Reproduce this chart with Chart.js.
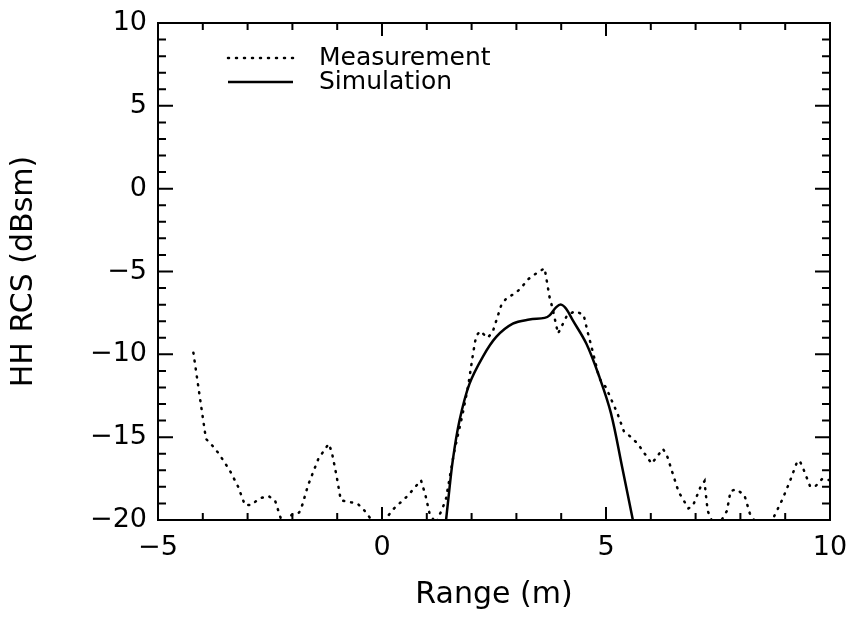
<!DOCTYPE html>
<html>
<head>
<meta charset="utf-8">
<script src="https://cdn.jsdelivr.net/npm/chart.js@4/dist/chart.umd.min.js"></script>
<style>
html, body { margin: 0; padding: 0; background: #fff; }
#wrap { width: 850px; height: 622px; }
</style>
</head>
<body>
<div id="wrap"><canvas id="rcs"></canvas></div>
<script>
// measured RCS (dotted)
var meas_x = [-4.21, -4.06, -3.93, -3.79, -3.64, -3.40, -3.21, -3.06, -2.92, -2.74, -2.54, -2.39, -2.26, -2.14, -2.02,
    -1.85, -1.78, -1.65, -1.42, -1.19, -1.12, -1.01, -0.92, -0.77, -0.55, -0.40, -0.26, -0.08, 0.12, 0.27,
    0.57, 0.87, 0.97, 1.06, 1.20, 1.35, 1.43, 1.61, 1.80, 1.93, 2.03, 2.10, 2.19, 2.36, 2.47,
    2.66, 2.78, 2.99, 3.13, 3.27, 3.45, 3.63, 3.74, 3.80, 3.93, 4.04, 4.13, 4.30, 4.50, 4.59,
    4.71, 4.85, 5.00, 5.26, 5.40, 5.56, 5.71, 6.02, 6.27, 6.36, 6.62, 6.84, 6.94, 7.11, 7.20,
    7.22, 7.27, 7.45, 7.70, 7.78, 7.91, 8.09, 8.21, 8.45, 8.74, 8.93, 9.10, 9.25, 9.32, 9.41,
    9.56, 9.68, 9.83, 10.0];
var meas_y = [-9.9, -12.7, -15.1, -15.5, -16.0, -17.0, -18.0, -19.1, -19.1, -18.7, -18.55, -18.8, -19.9, -20.4, -19.7,
    -19.55, -19.1, -17.9, -16.3, -15.4, -15.9, -17.4, -18.8, -18.9, -19.0, -19.4, -19.9, -20.5, -19.8, -19.3,
    -18.55, -17.6, -18.5, -19.6, -20.2, -19.3, -18.7, -15.9, -13.6, -11.8, -10.0, -8.9, -8.6, -9.0, -8.65,
    -7.05, -6.6, -6.3, -5.9, -5.45, -5.1, -4.8, -6.55, -7.15, -8.75, -8.15, -7.65, -7.4, -7.6, -8.65,
    -9.9, -11.45, -12.0, -13.6, -14.65, -15.0, -15.4, -16.6, -15.7, -16.1, -18.3, -19.3, -19.15, -18.0, -17.65,
    -18.25, -19.45, -20.6, -19.45, -18.25, -18.15, -18.5, -19.6, -20.6, -19.85, -18.8, -17.7, -16.6, -16.4, -16.95,
    -18.0, -17.95, -17.5, -17.6];

// simulated RCS (solid)
var sim_x = [1.43, 1.47, 1.58, 1.73, 1.95, 2.25, 2.55, 2.92, 3.29, 3.63, 3.74, 3.89, 4.00, 4.11, 4.26, 4.56, 4.85, 5.11, 5.36, 5.60];
var sim_y = [-20.0, -19.0, -16.4, -14.0, -11.8, -10.15, -8.95, -8.15, -7.9, -7.8, -7.65, -7.15, -7.0, -7.25, -7.95, -9.35, -11.35, -13.55, -16.8, -20.0];

var x_min = -5, x_max = 10, x_step = 5;
var y_min = -20, y_max = 10, y_step = 5;

var FONT = "'DejaVu Sans', sans-serif";

function toPoints(xs, ys) {
    var pts = [];
    for (var i = 0; i < xs.length; i++) {
        pts.push({ x: xs[i], y: ys[i] });
    }
    return pts;
}

function fmt(v) {
    return v < 0 ? '\u2212' + Math.abs(v) : String(v);
}

// box round the plot with inward ticks on all four sides
var frameTicks = {
    id: 'frameTicks',
    afterDatasetsDraw: function (chart) {
        var c = chart.ctx, a = chart.chartArea;
        var sx = chart.scales.x, sy = chart.scales.y;
        c.save();
        c.strokeStyle = '#000';
        c.lineWidth = 2;
        c.strokeRect(a.left, a.top, a.right - a.left, a.bottom - a.top);
        c.beginPath();
        for (var v = x_min; v <= x_max; v++) {
            var px = sx.getPixelForValue(v);
            var len = (v % x_step === 0) ? 13 : 7;
            c.moveTo(px, a.bottom); c.lineTo(px, a.bottom - len);
            c.moveTo(px, a.top); c.lineTo(px, a.top + len);
        }
        for (var w = y_min; w <= y_max; w++) {
            var py = sy.getPixelForValue(w);
            var l2 = (w % y_step === 0) ? 15 : 8;
            c.moveTo(a.left, py); c.lineTo(a.left + l2, py);
            c.moveTo(a.right, py); c.lineTo(a.right - l2, py);
        }
        c.stroke();

        // legend inside the plot
        var items = chart.data.datasets;
        var rows = [58, 82];
        c.font = '25px ' + FONT;
        c.textBaseline = 'middle';
        c.fillStyle = '#000';
        for (var i = 0; i < items.length; i++) {
            var ds = items[i];
            c.beginPath();
            c.lineWidth = ds.borderWidth;
            c.lineCap = ds.borderCapStyle || 'butt';
            c.setLineDash(ds.borderDash || []);
            c.moveTo(228, rows[i]); c.lineTo(293, rows[i]);
            c.stroke();
            c.setLineDash([]);
            c.fillText(ds.label, 319, rows[i]);
        }
        c.restore();
    }
};

var chart_rcs = new Chart(document.getElementById('rcs').getContext('2d'), {
    type: 'scatter',
    data: {
        datasets: [{
            label: 'Measurement',
            data: toPoints(meas_x, meas_y),
            showLine: true,
            borderColor: '#000',
            borderWidth: 2.5,
            borderDash: [1, 7],
            borderCapStyle: 'round',
            pointRadius: 0,
            tension: 0
        }, {
            label: 'Simulation',
            data: toPoints(sim_x, sim_y),
            showLine: true,
            borderColor: '#000',
            borderWidth: 2.5,
            pointRadius: 0,
            tension: 0.35
        }]
    },
    options: {
        responsive: true,
        maintainAspectRatio: false,
        animation: false,
        layout: { padding: { top: 23, right: 20, left: 0, bottom: 0 } },
        plugins: {
            legend: { display: false },
            tooltip: { enabled: false }
        },
        scales: {
            x: {
                type: 'linear',
                min: x_min, max: x_max,
                grid: { display: false, drawTicks: false },
                border: { display: false },
                ticks: {
                    stepSize: x_step,
                    padding: 12,
                    color: '#000',
                    font: { family: FONT, size: 27 },
                    maxRotation: 0,
                    callback: fmt
                },
                title: {
                    display: true,
                    text: 'Range (m)',
                    color: '#000',
                    font: { family: FONT, size: 30 },
                    padding: { top: 0, bottom: 9 }
                },
                afterFit: function (s) {
                    s.height = 102;
                    s.paddingLeft = 0;
                    s.paddingRight = 0;
                }
            },
            y: {
                type: 'linear',
                min: y_min, max: y_max,
                grid: { display: false, drawTicks: false },
                border: { display: false },
                ticks: {
                    stepSize: y_step,
                    padding: 11,
                    color: '#000',
                    font: { family: FONT, size: 27 },
                    callback: fmt
                },
                title: {
                    display: true,
                    text: 'HH RCS (dBsm)',
                    color: '#000',
                    font: { family: FONT, size: 30 },
                    padding: { top: 6, bottom: 0 }
                },
                afterFit: function (s) {
                    s.width = 158;
                    s.paddingTop = 0;
                    s.paddingBottom = 0;
                }
            }
        }
    },
    plugins: [frameTicks]
});
</script>
</body>
</html>
